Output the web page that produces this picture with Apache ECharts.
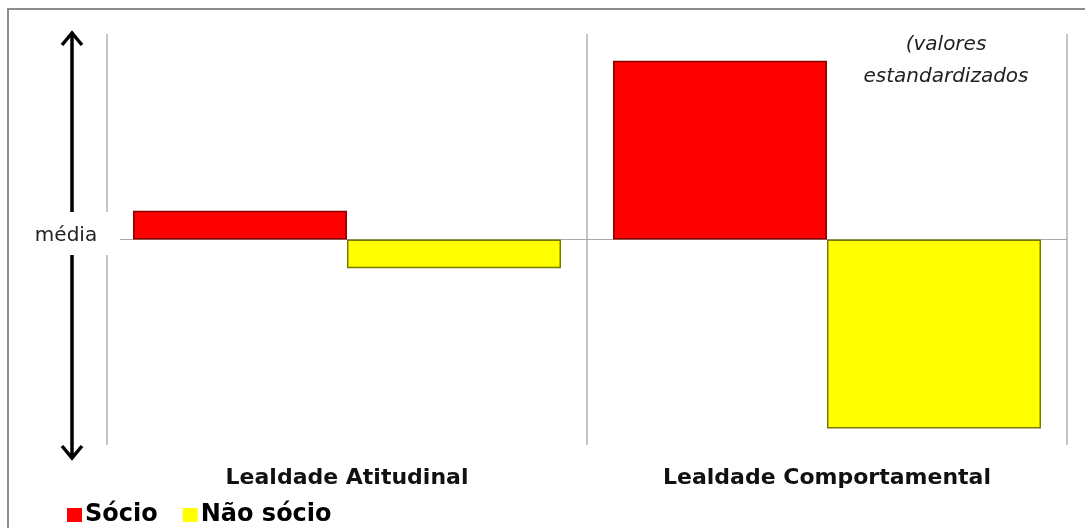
<!DOCTYPE html>
<html><head><meta charset="utf-8">
<script src="https://cdn.jsdelivr.net/npm/echarts@6/dist/echarts.min.js"></script>
<style>html,body{margin:0;padding:0;background:#fff}#c{width:1085px;height:528px}</style>
</head><body><div id="c"></div>
<script>
const categories = ['Lealdade Atitudinal', 'Lealdade Comportamental'];
const socio = [0.14, 0.87];
const naoSocio = [-0.14, -0.92];
const seriesNames = ['Sócio', 'Não sócio'];

const chart = echarts.init(document.getElementById('c'));
const font = '"DejaVu Sans", "Noto Sans", sans-serif';
chart.setOption({
  animation: false,
  backgroundColor: '#fff',
  grid: { left: 107, right: 18, top: 34, bottom: 83 },
  legend: {
    left: 62, top: 498, itemWidth: 15, itemHeight: 14, itemGap: 25,
    icon: 'rect',
    itemStyle: { borderWidth: 0 },
    textStyle: { fontFamily: font, fontWeight: 'bold', fontSize: 24, color: '#000', padding: [0,0,0,-2] },
    data: seriesNames
  },
  xAxis: {
    type: 'category', data: categories,
    axisLine: { show: false, onZero: false }, axisTick: { show: false },
    axisLabel: { margin: 22, fontFamily: font, fontWeight: 'bold', fontSize: 22, color: '#111' },
    splitLine: { show: true, lineStyle: { color: '#b0b0b0', width: 1.5 } }
  },
  yAxis: {
    type: 'value', min: -1, max: 1, interval: 1,
    axisLine: { show: false }, axisTick: { show: false }, axisLabel: { show: false },
    splitLine: { show: false }
  },
  series: [
    {
      name: seriesNames[0], type: 'bar', data: socio, barWidth: 214, barGap: '0%',
      itemStyle: { color: '#ff0000', borderColor: '#8a0000', borderWidth: 1.5 },
      markLine: {
        silent: true, symbol: 'none', label: { show: false },
        lineStyle: { color: '#a8a8a8', width: 1, type: 'solid' },
        data: [{ yAxis: 0 }], z: 1
      }
    },
    {
      name: seriesNames[1], type: 'bar', data: naoSocio, barWidth: 214,
      itemStyle: { color: '#ffff00', borderColor: '#7a7a00', borderWidth: 1.5 }
    }
  ],
  graphic: [
    { type: 'rect', shape: { x: 8, y: 9, width: 1100, height: 540 }, style: { fill: 'none', stroke: '#8c8c8c', lineWidth: 2 }, z: 100, silent: true },
    { type: 'line', shape: { x1: 72, y1: 34, x2: 72, y2: 456 }, style: { stroke: '#000', lineWidth: 3.5 }, z: 50 },
    { type: 'polyline', shape: { points: [[62, 45], [72, 33], [82, 45]] }, style: { stroke: '#000', lineWidth: 3.5, fill: null }, z: 50 },
    { type: 'polyline', shape: { points: [[62, 446], [72, 458], [82, 446]] }, style: { stroke: '#000', lineWidth: 3.5, fill: null }, z: 50 },
    { type: 'rect', shape: { x: 20, y: 212, width: 100, height: 43 }, style: { fill: '#fff' }, z: 60 },
    { type: 'text', x: 66, y: 236, style: { text: 'média', fontFamily: font, fontSize: 20, fill: '#222', align: 'center', verticalAlign: 'middle' }, z: 70 },
    { type: 'text', x: 946, y: 61, style: { text: '(valores\nestandardizados', fontFamily: font, fontStyle: 'italic', fontSize: 20, lineHeight: 32, fill: '#222', align: 'center', verticalAlign: 'middle' }, z: 70 }
  ]
});
</script></body></html>
